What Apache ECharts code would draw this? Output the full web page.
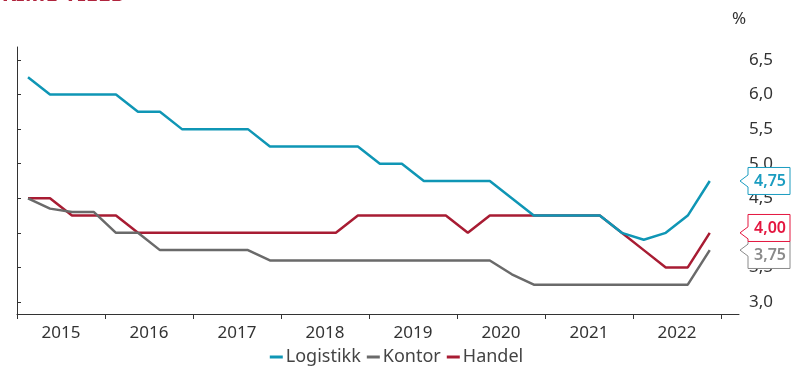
<!DOCTYPE html>
<html>
<head>
<meta charset="utf-8">
<script src="https://cdn.jsdelivr.net/npm/echarts@6/dist/echarts.min.js"></script>
<style>
html,body{margin:0;padding:0;background:#fff;}
#chart{width:793px;height:371px;}
</style>
</head>
<body>
<div id="chart"></div>
<script>
var years = ['2015','2016','2017','2018','2019','2020','2021','2022'];
var seriesNames = ['Logistikk','Kontor','Handel'];
var logistikk = [6.25,6.0,6.0,6.0,6.0,5.75,5.75,5.5,5.5,5.5,5.5,5.25,5.25,5.25,5.25,5.25,5.0,5.0,4.75,4.75,4.75,4.75,4.5,4.25,4.25,4.25,4.25,4.0,3.9,4.0,4.25,4.75];
var kontor = [4.5,4.35,4.3,4.3,4.0,4.0,3.75,3.75,3.75,3.75,3.75,3.6,3.6,3.6,3.6,3.6,3.6,3.6,3.6,3.6,3.6,3.6,3.4,3.25,3.25,3.25,3.25,3.25,3.25,3.25,3.25,3.75];
var handel = [4.5,4.5,4.25,4.25,4.25,4.0,4.0,4.0,4.0,4.0,4.0,4.0,4.0,4.0,4.0,4.25,4.25,4.25,4.25,4.25,4.0,4.25,4.25,4.25,4.25,4.25,4.25,4.0,3.75,3.5,3.5,4.0];
var yTicksMin = 3.0, yTicksMax = 6.5, yTickStep = 0.5;

var lineColors = {Logistikk:'#0f96b5', Kontor:'#6a6a6a', Handel:'#a81c33'};
var labelColors = {Logistikk:'#1a9cc0', Kontor:'#8a8a8a', Handel:'#e4163f'};
var FONT = '"Noto Sans", sans-serif';

var seriesData = {Logistikk: logistikk, Kontor: kontor, Handel: handel};
function toPairs(arr){ return arr.map(function(v,i){ return [i+0.5, v]; }); }

var X_MAX = 32.83;
var endItems = seriesNames.map(function(n){ var a = seriesData[n]; return [X_MAX, a[a.length-1], n]; });

var chart = echarts.init(document.getElementById('chart'), null, {renderer:'canvas'});

function boxCenters(api){
  var ys = endItems.map(function(it){ return api.coord([it[0], it[1]])[1]; });
  var idx = ys.map(function(y,i){return i;}).sort(function(a,b){return ys[a]-ys[b];});
  var c = ys.slice();
  var H = 27;
  for (var k=1;k<idx.length;k++){
    var a = idx[k-1], b = idx[k];
    var gap = c[b]-c[a];
    if (gap < H){ var d = (H-gap)/2; c[a]-=d; c[b]+=d; }
  }
  return c;
}

var option = {
  animation:false,
  textStyle:{fontFamily:FONT},
  grid:[
    {left:17, right:54, top:47, bottom:57},
    {left:17, right:54, top:60, bottom:69},
    {left:17, width:704, top:47, bottom:57}
  ],
  xAxis:[
    {gridIndex:0, type:'value', min:0, max:X_MAX, axisLine:{show:true, lineStyle:{color:'#333', width:1}}, axisTick:{show:false}, axisLabel:{show:false}, splitLine:{show:false}},
    {gridIndex:1, type:'value', min:0, max:X_MAX, show:false},
    {gridIndex:2, type:'category', data:years, boundaryGap:true, axisLine:{show:false}, axisTick:{show:true, length:5, lineStyle:{color:'#333'}}, axisLabel:{fontSize:17, color:'#333', margin:11, fontFamily:FONT}, splitLine:{show:false}}
  ],
  yAxis:[
    {gridIndex:0, type:'value', position:'right', min:2.826, max:6.688, axisLine:{show:true, lineStyle:{color:'#333', width:1}}, axisTick:{show:false}, axisLabel:{show:false}, splitLine:{show:false}},
    {gridIndex:1, type:'value', position:'right', min:yTicksMin, max:yTicksMax, interval:yTickStep, axisLine:{show:false}, axisTick:{show:true, inside:false, length:4, lineStyle:{color:'#333'}}, axisLabel:{fontSize:17, color:'#333', margin:10, fontFamily:FONT, formatter:function(v){return v.toFixed(1).replace('.',',');}}, splitLine:{show:false}},
    {gridIndex:2, type:'value', show:false}
  ],
  legend:{
    data:seriesNames, bottom:0, left:'center', icon:'rect', itemWidth:13, itemHeight:3, itemGap:6,
    textStyle:{fontSize:18, color:'#444', fontFamily:FONT, padding:[0,0,0,-2]}
  },
  graphic:[
    {type:'text', left:-12, top:-16, style:{text:'PRIME YIELD', fill:'#b0243d', font:'bold 22px '+FONT}},
    {type:'text', x:739, y:19, style:{text:'%', fill:'#333', font:'17px '+FONT, align:'center', verticalAlign:'middle'}}
  ],
  series:[
    {name:'Handel', type:'line', xAxisIndex:0, yAxisIndex:0, data:toPairs(handel), showSymbol:false, symbol:'none', lineStyle:{color:lineColors.Handel, width:2.5}, itemStyle:{color:lineColors.Handel}},
    {name:'Kontor', type:'line', xAxisIndex:0, yAxisIndex:0, data:toPairs(kontor), showSymbol:false, symbol:'none', lineStyle:{color:lineColors.Kontor, width:2.5}, itemStyle:{color:lineColors.Kontor}},
    {name:'Logistikk', type:'line', xAxisIndex:0, yAxisIndex:0, data:toPairs(logistikk), showSymbol:false, symbol:'none', lineStyle:{color:lineColors.Logistikk, width:2.5}, itemStyle:{color:lineColors.Logistikk}},
    {type:'custom', xAxisIndex:0, yAxisIndex:0, z:10, silent:true, data:endItems.map(function(it){return [it[0], it[1]];}),
      renderItem:function(params, api){
        var i = params.dataIndex;
        var name = endItems[i][2];
        var p = api.coord([api.value(0), api.value(1)]);
        var cy = boxCenters(api)[i];
        var tx = p[0]+1, ty = p[1];
        var L = tx+8, R = tx+50, T = cy-13.5, B = cy+13.5;
        var pts = [[L,T],[R,T],[R,B],[L,B],[L,ty+6],[tx,ty],[L,ty-6]];
        return {type:'group', children:[
          {type:'polygon', shape:{points:pts}, style:{fill:'#fff', stroke:labelColors[name], lineWidth:1}},
          {type:'text', style:{text:api.value(1).toFixed(2).replace('.',','), x:(L+R)/2+1, y:cy, align:'center', verticalAlign:'middle', fill:labelColors[name], font:'600 16px '+FONT}}
        ]};
      }
    }
  ]
};
chart.setOption(option);
</script>
</body>
</html>
